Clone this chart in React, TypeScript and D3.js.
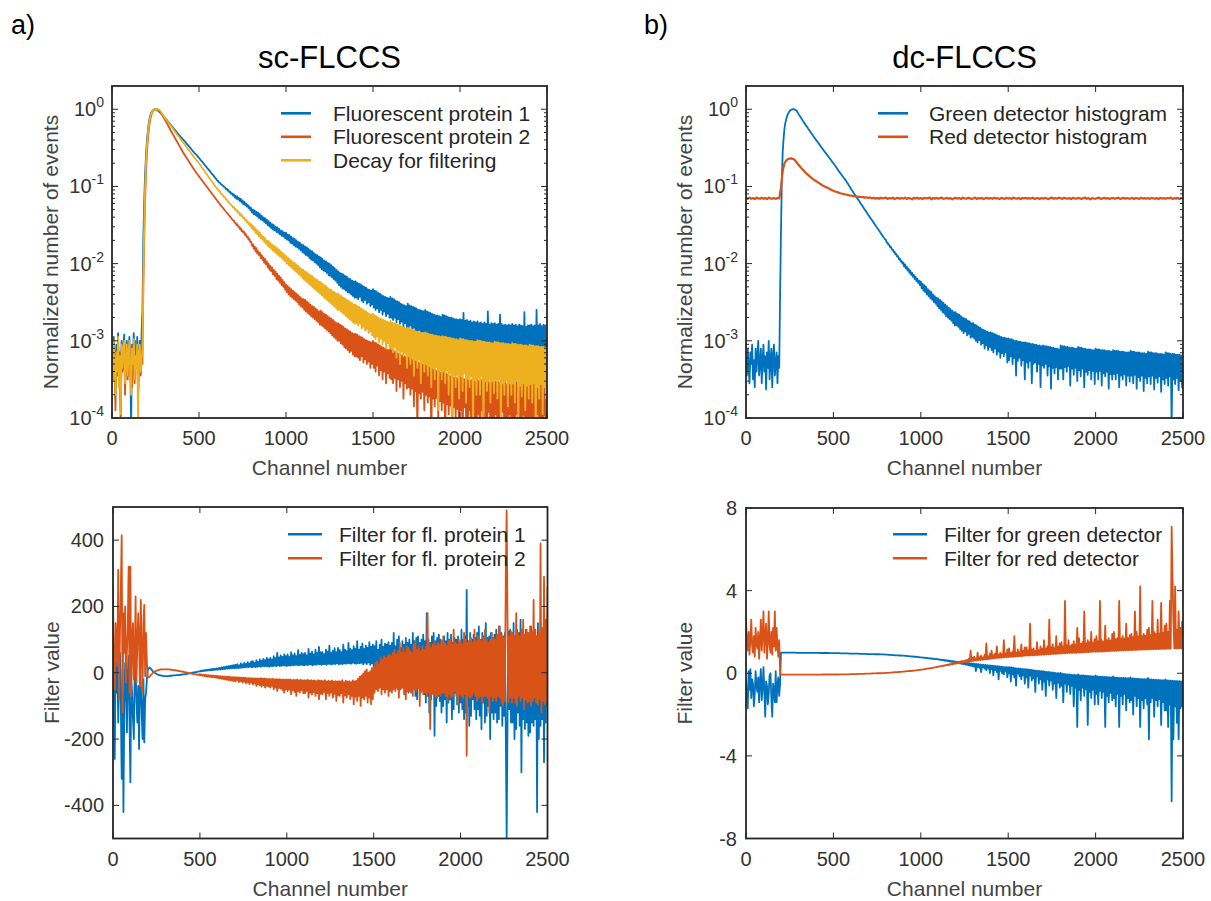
import React from "react";
import * as d3 from "d3";

// Every series is sampled on a regular channel grid from 0 to 2500.
// Series with 501 values are read every 5 channels, with 251 values every 10 channels.
const CHANNEL_MAX = 2500;

// ---------- sc-FLCCS histograms (log10 of normalized number of events), every 5 channels ----------
const scProtein1Log10 = [
  -3.0,-3.4,-2.95,-3.25,-3.6,-3.05,-3.3,-2.9,-3.5,-3.15,-3.9,-3.0,-3.35,-3.1,-2.92,-3.55,-3.2,-3.0,-3.45,-3.1,
  -2.95,-3.3,-4.1,-3.05,-3.25,-2.9,-3.5,-3.1,-3.35,-2.95,-3.7,-3.15,-3.0,-3.4,-2.9,-2.6,-1.7,-1.2,-0.85,-0.62,
  -0.43,-0.3,-0.2,-0.13,-0.08,-0.05,-0.03,-0.015,-0.005,0,0,-0.003,-0.01,-0.02,-0.03,-0.04,-0.05,-0.062,-0.075,-0.088,
  -0.1,-0.113,-0.125,-0.14,-0.155,-0.168,-0.18,-0.195,-0.21,-0.222,-0.235,-0.25,-0.265,-0.278,-0.29,-0.305,-0.32,-0.332,-0.345,-0.358,
  -0.37,-0.383,-0.395,-0.408,-0.42,-0.435,-0.45,-0.462,-0.475,-0.488,-0.5,-0.515,-0.53,-0.542,-0.555,-0.568,-0.58,-0.592,-0.605,-0.618,
  -0.63,-0.645,-0.66,-0.672,-0.685,-0.7,-0.715,-0.728,-0.74,-0.755,-0.77,-0.782,-0.795,-0.81,-0.825,-0.838,-0.85,-0.865,-0.88,-0.895,
  -0.905,-0.925,-0.93,-0.95,-0.95,-0.97,-0.972,-0.99,-0.992,-1.01,-1.012,-1.035,-1.03,-1.055,-1.05,-1.075,-1.07,-1.095,-1.09,-1.115,
  -1.1,-1.14,-1.12,-1.16,-1.13,-1.17,-1.15,-1.19,-1.16,-1.21,-1.18,-1.23,-1.2,-1.24,-1.22,-1.26,-1.24,-1.28,-1.26,-1.31,
  -1.28,-1.34,-1.3,-1.36,-1.31,-1.37,-1.33,-1.39,-1.34,-1.41,-1.36,-1.43,-1.38,-1.44,-1.4,-1.46,-1.41,-1.48,-1.43,-1.5,
  -1.45,-1.52,-1.47,-1.54,-1.49,-1.56,-1.5,-1.57,-1.52,-1.59,-1.53,-1.6,-1.55,-1.62,-1.57,-1.64,-1.58,-1.65,-1.6,-1.67,
  -1.6,-1.69,-1.62,-1.7,-1.63,-1.73,-1.65,-1.74,-1.67,-1.76,-1.68,-1.78,-1.7,-1.79,-1.72,-1.81,-1.73,-1.83,-1.75,-1.85,
  -1.76,-1.87,-1.78,-1.89,-1.79,-1.9,-1.81,-1.93,-1.83,-1.95,-1.84,-1.96,-1.86,-1.98,-1.88,-2.0,-1.89,-2.02,-1.91,-2.05,
  -1.92,-2.07,-1.94,-2.09,-1.96,-2.1,-1.97,-2.12,-1.99,-2.15,-2.0,-2.16,-2.02,-2.18,-2.04,-2.2,-2.06,-2.22,-2.08,-2.25,
  -2.1,-2.28,-2.12,-2.3,-2.13,-2.32,-2.14,-2.33,-2.16,-2.35,-2.17,-2.37,-2.19,-2.38,-2.2,-2.4,-2.22,-2.42,-2.23,-2.44,
  -2.23,-2.44,-2.25,-2.46,-2.26,-2.43,-2.27,-2.48,-2.29,-2.5,-2.3,-2.47,-2.31,-2.52,-2.33,-2.5,-2.34,-2.55,-2.35,-2.53,
  -2.33,-2.57,-2.35,-2.6,-2.36,-2.58,-2.38,-2.63,-2.39,-2.6,-2.41,-2.66,-2.42,-2.62,-2.43,-2.68,-2.44,-2.65,-2.45,-2.7,
  -2.43,-2.7,-2.45,-2.73,-2.46,-2.7,-2.48,-2.76,-2.49,-2.72,-2.5,-2.78,-2.52,-2.75,-2.53,-2.82,-2.54,-2.77,-2.55,-2.85,
  -2.52,-2.84,-2.54,-2.8,-2.55,-2.9,-2.56,-2.83,-2.57,-2.88,-2.58,-2.95,-2.6,-2.86,-2.6,-2.92,-2.61,-2.88,-2.62,-3.0,
  -2.6,-2.92,-2.62,-3.0,-2.63,-2.9,-2.64,-3.05,-2.65,-2.95,-2.66,-3.1,-2.67,-2.96,-2.67,-3.02,-2.68,-2.98,-2.69,-3.15,
  -2.66,-3.0,-2.67,-3.1,-2.68,-3.02,-2.69,-3.2,-2.7,-3.05,-2.7,-3.12,-2.71,-3.04,-2.72,-3.3,-2.72,-3.08,-2.73,-3.15,
  -2.72,-3.1,-2.73,-3.2,-2.64,-3.08,-2.74,-3.35,-2.73,-3.12,-2.75,-3.25,-2.74,-3.1,-2.76,-3.5,-2.75,-3.15,-2.76,-3.22,
  -2.75,-3.15,-2.77,-3.28,-2.76,-3.12,-2.78,-3.6,-2.76,-3.18,-2.78,-3.3,-2.62,-3.14,-2.79,-3.4,-2.77,-3.2,-2.78,-3.25,
  -2.77,-3.18,-2.79,-3.3,-2.78,-3.15,-2.66,-3.5,-2.78,-3.2,-2.8,-3.32,-2.79,-3.16,-2.8,-3.45,-2.79,-3.22,-2.8,-3.28,
  -2.78,-3.2,-2.8,-3.35,-2.79,-3.9,-2.81,-3.18,-2.79,-3.3,-2.8,-3.22,-2.81,-3.45,-2.63,-3.2,-2.82,-3.35,-2.8,-3.25,
  -2.8,-3.25,-2.79,-3.4,-2.81,-3.2,-2.8,-3.5,-2.6,-3.22,-2.8,-3.35,-2.78,-3.2,-2.81,-3.45,-2.79,-3.25,-2.8,-3.3,
  -2.95,
];

const scProtein2Log10 = [
  -3.2,-3.5,-3.05,-3.35,-3.9,-3.2,-3.45,-3.0,-3.6,-3.25,-4.1,-3.1,-3.4,-3.3,-3.05,-3.7,-3.2,-3.1,-3.5,-3.25,
  -3.05,-3.45,-3.2,-3.6,-3.1,-3.3,-3.55,-3.0,-3.35,-3.15,-3.7,-3.25,-3.1,-3.45,-3.2,-3.3,-2.3,-1.7,-1.2,-0.85,
  -0.6,-0.42,-0.3,-0.2,-0.13,-0.085,-0.05,-0.03,-0.015,-0.007,-0.002,0,0,-0.004,-0.01,-0.02,-0.04,-0.06,-0.08,-0.1,
  -0.12,-0.14,-0.16,-0.18,-0.2,-0.222,-0.245,-0.265,-0.285,-0.305,-0.325,-0.345,-0.365,-0.385,-0.405,-0.425,-0.445,-0.465,-0.485,-0.505,
  -0.525,-0.545,-0.565,-0.582,-0.6,-0.618,-0.635,-0.652,-0.67,-0.688,-0.705,-0.722,-0.74,-0.758,-0.775,-0.792,-0.81,-0.825,-0.84,-0.855,
  -0.87,-0.885,-0.9,-0.915,-0.93,-0.945,-0.96,-0.975,-0.99,-1.005,-1.02,-1.035,-1.05,-1.065,-1.08,-1.095,-1.11,-1.125,-1.14,-1.155,
  -1.17,-1.185,-1.2,-1.215,-1.23,-1.245,-1.26,-1.272,-1.285,-1.3,-1.315,-1.328,-1.34,-1.355,-1.37,-1.382,-1.395,-1.41,-1.425,-1.438,
  -1.44,-1.47,-1.47,-1.5,-1.49,-1.52,-1.52,-1.55,-1.54,-1.58,-1.57,-1.6,-1.59,-1.63,-1.62,-1.66,-1.65,-1.69,-1.68,-1.72,
  -1.72,-1.77,-1.75,-1.81,-1.78,-1.84,-1.8,-1.87,-1.84,-1.89,-1.86,-1.93,-1.89,-1.95,-1.92,-1.99,-1.94,-2.01,-1.97,-2.05,
  -2.0,-2.08,-2.03,-2.1,-2.05,-2.14,-2.08,-2.16,-2.1,-2.2,-2.13,-2.22,-2.16,-2.25,-2.18,-2.28,-2.21,-2.3,-2.24,-2.34,
  -2.27,-2.37,-2.29,-2.4,-2.31,-2.42,-2.33,-2.44,-2.35,-2.46,-2.37,-2.48,-2.39,-2.5,-2.41,-2.53,-2.43,-2.55,-2.45,-2.57,
  -2.46,-2.6,-2.47,-2.62,-2.49,-2.64,-2.51,-2.66,-2.53,-2.68,-2.55,-2.7,-2.56,-2.72,-2.58,-2.74,-2.6,-2.76,-2.62,-2.79,
  -2.61,-2.8,-2.63,-2.82,-2.65,-2.84,-2.66,-2.86,-2.68,-2.88,-2.7,-2.9,-2.71,-2.93,-2.73,-2.95,-2.75,-2.97,-2.77,-3.0,
  -2.77,-3.0,-2.79,-3.03,-2.8,-3.05,-2.82,-3.08,-2.84,-3.1,-2.85,-3.12,-2.87,-3.15,-2.88,-3.13,-2.9,-3.18,-2.91,-3.2,
  -2.91,-3.2,-2.92,-3.22,-2.94,-3.25,-2.95,-3.2,-2.96,-3.28,-2.98,-3.24,-2.99,-3.3,-3.0,-3.27,-3.01,-3.35,-3.02,-3.3,
  -3.0,-3.35,-3.02,-3.4,-3.03,-3.32,-3.05,-3.45,-3.06,-3.38,-3.08,-3.5,-3.09,-3.4,-3.1,-3.55,-3.11,-3.42,-3.12,-3.48,
  -3.1,-3.5,-3.12,-3.55,-3.13,-3.48,-3.15,-3.65,-3.16,-3.5,-3.17,-3.6,-3.18,-3.52,-3.19,-3.75,-3.2,-3.55,-3.21,-3.62,
  -3.2,-3.6,-3.22,-3.7,-3.23,-3.62,-3.25,-3.85,-3.26,-3.65,-3.27,-4.2,-3.28,-3.68,-3.29,-3.75,-3.3,-3.66,-3.31,-3.9,
  -3.3,-3.7,-3.32,-3.8,-3.33,-3.72,-3.35,-4.3,-3.36,-3.75,-3.37,-3.85,-3.38,-3.74,-3.39,-4.0,-3.4,-3.78,-3.41,-3.9,
  -3.4,-3.8,-3.41,-4.3,-3.42,-3.82,-3.44,-3.95,-3.45,-3.84,-3.46,-4.3,-3.47,-3.86,-3.48,-4.0,-3.48,-3.88,-3.49,-4.3,
  -3.46,-3.9,-3.48,-4.3,-3.49,-3.86,-3.5,-4.0,-3.5,-4.3,-3.51,-3.9,-3.52,-4.3,-3.5,-3.92,-3.52,-4.05,-3.53,-4.3,
  -3.5,-3.95,-3.52,-4.3,-3.5,-3.9,-3.53,-4.3,-3.52,-4.0,-3.54,-4.3,-3.52,-3.92,-3.55,-4.3,-3.53,-3.98,-3.54,-4.3,
  -3.52,-3.95,-3.54,-4.3,-3.53,-4.0,-3.55,-4.3,-3.52,-3.92,-3.55,-4.3,-3.54,-4.05,-3.56,-4.3,-3.53,-3.95,-3.55,-4.3,
  -3.54,-4.0,-3.55,-4.3,-3.53,-3.95,-3.56,-4.3,-3.54,-4.02,-3.55,-4.3,-3.53,-3.96,-3.56,-4.3,-3.54,-4.0,-3.55,-4.3,
  -3.53,-3.98,-3.56,-4.3,-3.54,-4.02,-3.55,-4.3,-3.53,-3.95,-3.56,-4.3,-3.54,-4.0,-3.55,-4.3,-3.53,-3.97,-3.56,-4.3,
  -3.6,
];

const scDecayLog10 = [
  -3.1,-3.5,-3.0,-3.3,-3.7,-3.15,-3.4,-2.95,-3.6,-3.2,-3.95,-3.05,-3.35,-3.1,-3.0,-3.55,-3.25,-3.05,-3.45,-3.15,
  -3.0,-3.4,-3.7,-3.1,-3.3,-2.98,-3.5,-3.2,-3.35,-3.05,-4.1,-3.15,-3.05,-3.4,-3.25,-3.1,-2.2,-1.55,-1.05,-0.72,
  -0.5,-0.35,-0.24,-0.16,-0.1,-0.065,-0.04,-0.022,-0.01,-0.003,0,0,0,-0.004,-0.01,-0.018,-0.03,-0.045,-0.06,-0.08,
  -0.1,-0.115,-0.13,-0.145,-0.16,-0.175,-0.19,-0.205,-0.22,-0.235,-0.25,-0.268,-0.285,-0.3,-0.315,-0.33,-0.345,-0.36,-0.375,-0.39,
  -0.405,-0.42,-0.435,-0.45,-0.465,-0.48,-0.495,-0.51,-0.525,-0.54,-0.555,-0.57,-0.585,-0.6,-0.615,-0.63,-0.645,-0.658,-0.67,-0.685,
  -0.7,-0.715,-0.73,-0.748,-0.765,-0.78,-0.795,-0.812,-0.83,-0.845,-0.86,-0.878,-0.895,-0.91,-0.925,-0.94,-0.955,-0.972,-0.99,-1.005,
  -1.015,-1.035,-1.04,-1.06,-1.065,-1.09,-1.095,-1.115,-1.12,-1.14,-1.145,-1.17,-1.172,-1.195,-1.195,-1.22,-1.225,-1.245,-1.25,-1.27,
  -1.265,-1.3,-1.29,-1.32,-1.31,-1.345,-1.335,-1.37,-1.355,-1.39,-1.38,-1.415,-1.405,-1.44,-1.43,-1.465,-1.45,-1.49,-1.475,-1.515,
  -1.49,-1.55,-1.51,-1.57,-1.53,-1.6,-1.56,-1.62,-1.58,-1.65,-1.6,-1.67,-1.63,-1.69,-1.65,-1.72,-1.67,-1.74,-1.7,-1.77,
  -1.71,-1.79,-1.73,-1.81,-1.75,-1.83,-1.77,-1.85,-1.78,-1.87,-1.8,-1.89,-1.82,-1.91,-1.84,-1.93,-1.86,-1.95,-1.88,-1.97,
  -1.9,-2.0,-1.92,-2.02,-1.94,-2.04,-1.96,-2.06,-1.98,-2.08,-1.99,-2.1,-2.01,-2.12,-2.03,-2.14,-2.05,-2.16,-2.07,-2.19,
  -2.08,-2.21,-2.1,-2.23,-2.11,-2.25,-2.13,-2.27,-2.15,-2.29,-2.16,-2.31,-2.18,-2.33,-2.2,-2.35,-2.21,-2.37,-2.23,-2.39,
  -2.24,-2.41,-2.26,-2.43,-2.28,-2.45,-2.29,-2.47,-2.31,-2.49,-2.33,-2.51,-2.34,-2.53,-2.36,-2.55,-2.37,-2.57,-2.39,-2.6,
  -2.39,-2.6,-2.41,-2.62,-2.42,-2.64,-2.44,-2.66,-2.45,-2.68,-2.47,-2.7,-2.48,-2.72,-2.5,-2.74,-2.51,-2.76,-2.53,-2.78,
  -2.53,-2.77,-2.55,-2.8,-2.56,-2.78,-2.58,-2.84,-2.59,-2.82,-2.61,-2.87,-2.62,-2.85,-2.64,-2.9,-2.65,-2.88,-2.66,-2.93,
  -2.65,-2.95,-2.67,-2.98,-2.68,-2.94,-2.7,-3.02,-2.71,-2.97,-2.72,-3.05,-2.73,-3.0,-2.74,-3.1,-2.75,-3.03,-2.76,-3.08,
  -2.74,-3.1,-2.76,-3.15,-2.77,-3.08,-2.78,-3.22,-2.79,-3.12,-2.8,-3.3,-2.81,-3.14,-2.82,-3.2,-2.83,-3.16,-2.84,-3.35,
  -2.83,-3.2,-2.84,-3.3,-2.85,-3.22,-2.86,-3.45,-2.87,-3.25,-2.88,-3.35,-2.88,-3.24,-2.89,-3.55,-2.9,-3.28,-2.9,-3.4,
  -2.89,-3.3,-2.9,-3.45,-2.91,-3.32,-2.92,-3.6,-2.92,-3.35,-2.93,-3.5,-2.93,-3.34,-2.94,-3.9,-2.94,-3.38,-2.95,-3.5,
  -2.94,-3.4,-2.95,-3.55,-2.95,-3.38,-2.96,-3.7,-2.96,-3.42,-2.97,-4.2,-2.97,-3.45,-2.98,-3.6,-2.98,-3.44,-2.99,-3.75,
  -2.97,-3.45,-2.98,-3.65,-2.98,-3.42,-2.99,-3.8,-2.99,-3.48,-3.0,-3.6,-3.0,-3.46,-3.0,-4.2,-3.01,-3.5,-3.01,-3.7,
  -2.99,-3.48,-3.0,-3.7,-3.0,-3.46,-3.01,-4.2,-3.01,-3.52,-3.02,-3.65,-3.02,-3.5,-3.02,-3.8,-3.03,-3.52,-3.03,-3.68,
  -3.01,-3.5,-3.02,-3.75,-3.02,-3.5,-3.03,-4.2,-3.03,-3.55,-3.03,-3.7,-3.04,-3.52,-3.04,-3.85,-3.04,-3.55,-3.05,-3.7,
  -3.03,-3.55,-3.04,-3.8,-3.04,-3.52,-3.05,-4.2,-3.05,-3.58,-3.05,-3.72,-3.06,-3.55,-3.06,-3.9,-3.06,-3.58,-3.07,-3.75,
  -3.05,-3.56,-3.06,-3.8,-3.06,-3.55,-3.07,-4.2,-3.07,-3.6,-3.07,-3.75,-3.08,-3.56,-3.08,-3.95,-3.08,-3.6,-3.09,-3.75,
  -3.1,
];

// ---------- dc-FLCCS histograms (log10 of normalized number of events) ----------
// green detector: every 5 channels
const dcGreenLog10 = [
  -3.2,-3.45,-3.1,-3.35,-3.55,-3.15,-3.3,-3.05,-3.5,-3.25,-3.6,-3.1,-3.4,-3.2,-3.0,-3.45,-3.3,-3.1,-3.55,-3.25,
  -3.05,-3.4,-3.2,-3.63,-3.15,-3.35,-3.0,-3.5,-3.25,-3.1,-3.6,-3.2,-3.05,-3.45,-3.3,-3.15,-3.55,-3.2,-3.35,-2.4,
  -1.6,-0.9,-0.55,-0.38,-0.25,-0.18,-0.13,-0.09,-0.06,-0.04,-0.02,-0.012,-0.005,-0.001,0,0,-0.005,-0.012,-0.02,-0.04,
  -0.06,-0.078,-0.095,-0.112,-0.13,-0.148,-0.165,-0.182,-0.2,-0.215,-0.23,-0.248,-0.265,-0.282,-0.3,-0.315,-0.33,-0.348,-0.365,-0.38,
  -0.395,-0.41,-0.425,-0.44,-0.455,-0.472,-0.49,-0.505,-0.52,-0.535,-0.55,-0.565,-0.58,-0.595,-0.61,-0.625,-0.64,-0.655,-0.67,-0.685,
  -0.7,-0.715,-0.73,-0.748,-0.765,-0.782,-0.8,-0.815,-0.83,-0.845,-0.86,-0.875,-0.89,-0.905,-0.92,-0.938,-0.955,-0.972,-0.99,-1.008,
  -1.03,-1.047,-1.064,-1.081,-1.098,-1.115,-1.132,-1.149,-1.166,-1.183,-1.2,-1.217,-1.234,-1.251,-1.268,-1.285,-1.302,-1.319,-1.336,-1.353,
  -1.37,-1.386,-1.403,-1.42,-1.436,-1.452,-1.469,-1.485,-1.502,-1.519,-1.535,-1.552,-1.568,-1.585,-1.602,-1.618,-1.635,-1.652,-1.668,-1.685,
  -1.69,-1.727,-1.728,-1.758,-1.758,-1.79,-1.786,-1.82,-1.818,-1.85,-1.845,-1.882,-1.876,-1.91,-1.905,-1.944,-1.935,-1.972,-1.965,-2.0,
  -1.985,-2.04,-2.01,-2.065,-2.04,-2.09,-2.065,-2.12,-2.09,-2.145,-2.12,-2.17,-2.145,-2.2,-2.17,-2.225,-2.195,-2.25,-2.22,-2.28,
  -2.23,-2.32,-2.26,-2.35,-2.28,-2.37,-2.3,-2.4,-2.33,-2.42,-2.35,-2.45,-2.37,-2.47,-2.4,-2.5,-2.42,-2.52,-2.44,-2.55,
  -2.45,-2.58,-2.47,-2.6,-2.49,-2.63,-2.51,-2.65,-2.53,-2.68,-2.55,-2.7,-2.57,-2.72,-2.59,-2.74,-2.61,-2.77,-2.63,-2.8,
  -2.63,-2.8,-2.65,-2.82,-2.66,-2.85,-2.68,-2.87,-2.7,-2.9,-2.71,-2.88,-2.72,-2.93,-2.74,-2.91,-2.75,-2.96,-2.77,-2.95,
  -2.77,-2.97,-2.79,-3.0,-2.8,-3.02,-2.82,-2.99,-2.83,-3.05,-2.85,-3.03,-2.86,-3.1,-2.87,-3.06,-2.88,-3.12,-2.89,-3.08,
  -2.89,-3.12,-2.9,-3.15,-2.91,-3.1,-2.92,-3.18,-2.93,-3.14,-2.94,-3.22,-2.95,-3.16,-2.96,-3.2,-2.96,-3.15,-2.97,-3.28,
  -2.97,-3.25,-2.98,-3.2,-2.98,-3.3,-2.99,-3.22,-3.0,-3.45,-3.0,-3.26,-3.01,-3.22,-3.01,-3.32,-3.02,-3.25,-3.02,-3.5,
  -3.02,-3.28,-3.03,-3.35,-3.03,-3.26,-3.04,-3.55,-3.04,-3.3,-3.05,-3.28,-3.05,-3.4,-3.06,-3.3,-3.06,-3.6,-3.07,-3.32,
  -3.06,-3.35,-3.07,-3.3,-3.07,-3.45,-3.08,-3.33,-3.08,-3.62,-3.09,-3.35,-3.09,-3.42,-3.1,-3.34,-3.1,-3.5,-3.11,-3.36,
  -3.06,-3.36,-3.07,-3.5,-3.07,-3.34,-3.08,-3.4,-3.08,-3.33,-3.09,-3.58,-3.09,-3.36,-3.09,-3.44,-3.1,-3.35,-3.1,-3.52,
  -3.08,-3.38,-3.09,-3.46,-3.09,-3.36,-3.1,-3.6,-3.1,-3.4,-3.11,-3.44,-3.11,-3.38,-3.11,-3.5,-3.12,-3.39,-3.12,-3.56,
  -3.1,-3.4,-3.11,-3.5,-3.11,-3.39,-3.12,-3.58,-3.12,-3.42,-3.12,-3.46,-3.13,-3.4,-3.13,-3.62,-3.13,-3.43,-3.14,-3.5,
  -3.12,-3.43,-3.13,-3.5,-3.13,-3.42,-3.13,-3.6,-3.14,-3.45,-3.14,-3.5,-3.14,-3.43,-3.15,-3.58,-3.15,-3.45,-3.15,-3.53,
  -3.13,-3.45,-3.14,-3.55,-3.14,-3.44,-3.15,-3.62,-3.15,-3.47,-3.15,-3.52,-3.16,-3.45,-3.16,-3.65,-3.16,-3.48,-3.17,-3.55,
  -3.14,-3.46,-3.15,-3.56,-3.15,-3.45,-3.16,-3.63,-3.16,-3.48,-3.16,-3.54,-3.17,-3.46,-3.17,-3.66,-3.17,-3.5,-3.18,-3.56,
  -3.15,-3.48,-3.16,-3.58,-3.16,-3.46,-3.17,-4.1,-3.17,-3.5,-3.17,-3.56,-3.18,-3.48,-3.18,-3.64,-3.18,-3.52,-3.19,-3.6,
  -3.3,
];

// red detector: every 10 channels
const dcRedLog10 = [
  -1.15,-1.16,-1.145,-1.16,-1.15,-1.165,-1.145,-1.155,-1.16,-1.145,
  -1.16,-1.15,-1.165,-1.145,-1.155,-1.16,-1.148,-1.162,-1.15,-1.155,
  -1.02,-0.8,-0.7,-0.665,-0.645,-0.64,-0.637,-0.645,-0.66,-0.69,
  -0.72,-0.745,-0.77,-0.795,-0.82,-0.84,-0.86,-0.88,-0.9,-0.915,
  -0.93,-0.945,-0.96,-0.975,-0.99,-1.0,-1.012,-1.022,-1.035,-1.045,
  -1.055,-1.065,-1.072,-1.08,-1.088,-1.095,-1.1,-1.105,-1.11,-1.115,
  -1.118,-1.122,-1.128,-1.13,-1.135,-1.133,-1.14,-1.138,-1.145,-1.14,
  -1.15,-1.143,-1.155,-1.148,-1.158,-1.15,-1.16,-1.146,-1.157,-1.15,
  -1.145,-1.162,-1.15,-1.158,-1.145,-1.165,-1.152,-1.148,-1.16,-1.15,
  -1.158,-1.145,-1.162,-1.15,-1.155,-1.168,-1.148,-1.158,-1.145,-1.16,
  -1.15,-1.163,-1.147,-1.157,-1.152,-1.145,-1.166,-1.15,-1.158,-1.148,
  -1.16,-1.15,-1.145,-1.162,-1.155,-1.148,-1.16,-1.15,-1.167,-1.152,
  -1.148,-1.158,-1.15,-1.165,-1.145,-1.155,-1.16,-1.148,-1.152,-1.162,
  -1.155,-1.145,-1.162,-1.15,-1.158,-1.147,-1.165,-1.152,-1.148,-1.16,
  -1.15,-1.16,-1.145,-1.158,-1.152,-1.165,-1.148,-1.155,-1.162,-1.147,
  -1.158,-1.15,-1.163,-1.145,-1.155,-1.16,-1.148,-1.166,-1.15,-1.155,
  -1.147,-1.16,-1.152,-1.158,-1.145,-1.162,-1.155,-1.15,-1.165,-1.148,
  -1.16,-1.148,-1.155,-1.165,-1.15,-1.145,-1.16,-1.152,-1.158,-1.146,
  -1.152,-1.162,-1.147,-1.155,-1.16,-1.15,-1.165,-1.148,-1.155,-1.16,
  -1.148,-1.155,-1.162,-1.15,-1.145,-1.16,-1.152,-1.167,-1.15,-1.157,
  -1.16,-1.15,-1.145,-1.163,-1.155,-1.148,-1.158,-1.15,-1.165,-1.152,
  -1.15,-1.16,-1.152,-1.146,-1.162,-1.155,-1.148,-1.16,-1.15,-1.158,
  -1.157,-1.148,-1.165,-1.15,-1.155,-1.162,-1.145,-1.158,-1.152,-1.16,
  -1.15,-1.162,-1.148,-1.155,-1.16,-1.15,-1.165,-1.147,-1.158,-1.152,
  -1.16,-1.15,-1.155,-1.145,-1.162,-1.152,-1.158,-1.148,-1.165,-1.15,
  -1.155,
];

// ---------- sc-FLCCS filters, every 5 channels ----------
const scFilter1 = [
  80,-120,-260,30,-60,40,-150,-20,60,-90,-320,10,-420,-100,30,-50,-180,0,50,-140,
  -330,-30,-60,-140,-200,10,20,-90,-150,-40,-230,0,-40,-120,-200,-20,-210,-80,-60,-20,
  8,12,16,14,10,7,4,2,0,-2,-3,-5,-6,-7,-8,-8,-9,-9,-10,-10,
  -10,-10,-10,-10,-10,-9,-9,-9,-9,-8,-8,-8,-8,-7,-7,-7,-7,-6,-6,-6,
  -5,-5,-5,-4,-4,-3,-3,-2,-2,-1,-1,0,0,1,1,2,2,3,3,4,
  4,6,5,7,5,8,6,9,6,9,7,10,7,11,8,12,8,12,9,13,
  9,14,10,15,10,16,11,17,11,18,12,19,12,20,13,21,13,22,14,23,
  13,24,14,26,14,22,15,28,15,25,16,30,16,27,17,32,17,28,18,34,
  16,35,18,30,17,38,18,33,19,40,18,36,20,42,19,38,20,45,19,40,
  18,45,20,40,19,50,21,44,20,60,22,46,20,52,21,48,22,55,21,50,
  20,55,22,48,21,62,23,52,22,58,24,50,23,68,22,54,24,60,23,56,
  22,60,24,52,23,72,25,58,24,64,22,55,25,70,24,60,26,78,25,62,
  24,62,26,56,25,70,24,64,27,82,26,60,25,66,27,74,26,62,28,75,
  25,68,27,62,26,85,28,70,27,65,29,90,28,72,27,68,30,80,28,72,
  27,95,29,70,28,78,30,88,25,72,30,82,26,75,31,92,24,78,28,85,
  20,80,10,95,-10,70,5,85,0,100,-20,78,-5,88,-15,85,-10,92,-5,82,
  -30,90,-20,120,-40,80,-35,100,-50,110,-25,75,-45,95,-30,85,-15,105,-40,90,
  -60,100,-40,85,-55,120,-30,95,-70,105,-80,110,-45,90,-60,100,-50,115,-65,95,
  -90,180,-70,100,-120,90,-80,110,-60,120,-190,95,-100,105,-70,115,-85,100,-120,95,
  -100,110,-80,95,-150,120,-90,100,-80,115,-140,90,-110,105,-60,100,-95,110,-120,90,
  -90,130,-110,100,-140,110,-120,250,-100,95,-160,120,-130,100,-80,115,-110,105,-140,120,
  -110,140,-130,100,-170,120,-90,110,-150,150,-130,105,-100,110,-200,120,-120,105,-140,115,
  -120,130,-150,100,-140,140,-100,120,-160,110,-130,120,-180,-500,-140,125,-110,130,-150,120,
  -150,150,-200,110,-170,130,-120,120,-160,160,-300,120,-140,110,-170,130,-150,120,-190,115,
  -180,140,-150,120,-160,130,-140,110,-420,150,-200,120,-160,130,-140,110,-270,120,-150,100,
  -100,
];

const scFilter2 = [
  260,-40,-50,150,80,20,310,-80,120,250,415,-120,180,60,200,-30,60,140,320,-60,
  320,-70,100,150,-20,40,230,-30,80,180,100,-40,220,60,-60,150,205,-10,120,30,
  -15,-14,-12,-9,-6,-3,0,2,4,5,6,7,8,9,9,10,10,10,10,10,
  10,10,10,10,10,10,9,9,9,8,8,8,7,7,6,6,5,5,4,4,
  3,3,2,2,1,0,0,-1,-1,-2,-2,-3,-3,-4,-4,-5,-5,-6,-6,-7,
  -4,-8,-5,-9,-6,-10,-6,-11,-7,-12,-7,-12,-8,-13,-8,-14,-9,-14,-9,-15,
  -9,-16,-10,-17,-10,-18,-11,-19,-11,-20,-12,-21,-12,-22,-12,-23,-13,-24,-13,-25,
  -13,-26,-14,-22,-14,-28,-14,-25,-15,-30,-15,-27,-15,-32,-16,-28,-16,-34,-16,-30,
  -16,-36,-17,-32,-17,-40,-17,-35,-18,-38,-16,-42,-18,-37,-17,-45,-18,-40,-19,-42,
  -18,-45,-19,-40,-18,-50,-20,-44,-19,-55,-20,-46,-19,-48,-21,-52,-20,-60,-21,-50,
  -20,-55,-21,-50,-20,-65,-22,-52,-21,-58,-22,-70,-20,-55,-23,-60,-21,-52,-23,-62,
  -22,-62,-23,-55,-21,-75,-24,-60,-22,-66,-24,-58,-23,-70,-25,-62,-22,-80,-24,-64,
  -24,-65,-25,-58,-22,-80,-26,-62,-24,-70,-26,-60,-23,-75,-27,-64,-25,-85,-26,-68,
  -25,-70,-26,-62,-22,-90,-28,-68,-24,-75,-27,-65,-25,-80,-28,-70,-23,-95,-26,-72,
  -24,-85,-18,-70,-12,-100,-8,-75,-2,-80,5,-70,10,-90,0,-75,5,-95,15,-80,
  15,-60,30,-50,35,-55,25,-45,45,-65,40,-50,50,-60,45,-50,50,-70,55,-55,
  50,-60,60,-50,70,-55,55,-45,65,-75,90,-50,60,-45,75,-65,60,-80,80,-55,
  75,-55,65,-60,60,-70,85,-50,95,-55,70,-45,80,-100,65,-55,80,-65,70,-60,
  80,-70,180,-60,90,-170,75,-65,85,-60,95,-70,80,-75,90,-65,85,-70,95,-60,
  110,-60,90,-70,80,-85,95,-65,100,-75,85,-70,130,-55,90,-70,85,-95,100,-65,
  95,-70,85,-75,120,-65,100,-250,90,-70,95,-75,105,-70,90,-60,130,-70,95,-85,
  110,-75,100,-70,95,-90,105,-70,130,-70,100,-75,90,-120,100,-70,120,-85,105,-75,
  100,-85,115,-70,140,-75,120,-90,110,-100,105,-85,300,490,160,-90,110,-75,125,-90,
  120,-75,110,-90,180,-100,120,-70,110,-85,130,-75,160,-110,115,-80,130,-90,120,-85,
  140,-100,125,-85,220,-75,130,-90,110,-95,120,-80,390,-120,135,-85,290,-95,160,-85,
  260,
];

// ---------- dc-FLCCS filters, every 5 channels ----------
const dcFilterGreen = [
  -0.3,-1.2,-1.7,0.1,-0.8,0.2,-1.2,-0.3,-0.5,-1.6,-1.0,0.1,-0.6,-0.9,-0.2,-1.4,-0.4,0.2,-1.3,-0.7,
  0.3,-0.9,-2.1,-0.4,-0.6,-1.5,-1.0,-0.1,0.0,-1.2,-2.1,-0.5,-0.8,-1.4,0.1,-1.4,-0.6,-0.2,-1.1,-0.5,
  1.0,1.0,1.0,1.0,1.0,1.0,1.0,1.0,1.0,1.0,1.0,1.0,1.0,1.0,1.0,1.0,1.0,1.0,0.99,0.99,
  0.99,0.99,0.99,0.99,0.99,0.99,0.99,0.99,0.99,0.99,0.99,0.99,0.99,0.99,0.99,0.99,0.99,0.99,0.99,0.99,
  0.99,0.99,0.99,0.99,0.98,0.98,0.98,0.98,0.98,0.98,0.98,0.98,0.98,0.98,0.98,0.98,0.97,0.97,0.97,0.97,
  0.97,0.97,0.97,0.97,0.97,0.97,0.97,0.97,0.96,0.96,0.96,0.96,0.96,0.96,0.96,0.96,0.96,0.96,0.95,0.95,
  0.95,0.95,0.95,0.95,0.95,0.95,0.95,0.95,0.95,0.95,0.94,0.94,0.94,0.94,0.94,0.94,0.94,0.94,0.93,0.93,
  0.93,0.93,0.93,0.93,0.93,0.93,0.93,0.92,0.92,0.92,0.92,0.92,0.92,0.91,0.91,0.91,0.91,0.91,0.91,0.9,
  0.9,0.9,0.9,0.89,0.89,0.89,0.89,0.88,0.88,0.88,0.88,0.87,0.87,0.87,0.87,0.86,0.86,0.86,0.85,0.85,
  0.85,0.85,0.84,0.84,0.84,0.83,0.83,0.83,0.82,0.82,0.81,0.81,0.8,0.8,0.8,0.79,0.79,0.78,0.78,0.77,
  0.77,0.77,0.76,0.76,0.75,0.75,0.74,0.73,0.74,0.72,0.73,0.71,0.72,0.7,0.71,0.69,0.7,0.68,0.69,0.67,
  0.68,0.66,0.67,0.64,0.66,0.63,0.65,0.61,0.64,0.6,0.63,0.58,0.62,0.57,0.6,0.55,0.59,0.54,0.58,0.52,
  0.57,0.51,0.56,0.49,0.55,0.47,0.54,0.45,0.53,0.44,0.52,0.42,0.51,0.4,0.5,0.38,0.49,0.36,0.48,0.34,
  0.47,0.32,0.46,0.1,0.45,0.3,0.44,0.26,0.43,0.05,0.42,0.28,0.41,0.22,0.4,0.15,0.39,0.24,0.38,0.0,
  0.38,0.2,0.37,-0.1,0.36,0.15,0.35,0.05,0.34,-0.3,0.33,0.12,0.32,0.0,0.31,-0.05,0.3,0.1,0.3,-0.2,
  0.3,0.0,0.29,-0.4,0.28,-0.05,0.27,-0.2,0.25,-0.6,0.24,0.0,0.23,-0.15,0.22,-0.3,0.21,-0.1,0.2,-0.5,
  0.2,-0.2,0.19,-0.7,0.18,-0.1,0.17,-0.35,0.15,-0.25,0.14,-0.9,0.13,-0.15,0.12,-0.5,0.11,-0.3,0.1,-0.8,
  0.1,-0.4,0.08,-1.1,0.07,-0.3,0.06,-0.6,0.05,-0.35,0.04,-0.8,0.03,-0.5,0.02,-1.2,0.01,-0.45,0.0,-0.7,
  0.02,-0.6,-0.02,-1.4,-0.03,-0.5,-0.04,-0.9,-0.05,-0.55,-0.06,-1.0,-0.07,-0.6,-0.08,-1.6,-0.08,-0.7,-0.09,-2.6,
  -0.05,-0.8,-0.1,-1.3,-0.1,-0.7,-0.11,-1.1,-0.12,-0.75,-0.12,-2.5,-0.13,-0.9,-0.14,-1.2,-0.14,-0.8,-0.15,-1.5,
  -0.1,-1.0,-0.15,-1.5,-0.16,-0.85,-0.16,-1.2,-0.17,-0.9,-0.18,-2.6,-0.18,-1.1,-0.19,-1.4,-0.19,-0.95,-0.2,-1.3,
  -0.15,-1.2,-0.2,-1.6,-0.21,-1.0,-0.21,-2.6,-0.22,-1.1,-0.22,-1.5,-0.23,-1.0,-0.23,-1.8,-0.24,-1.2,-0.24,-1.4,
  -0.2,-1.3,-0.25,-2.0,-0.25,-1.1,-0.26,-1.6,-0.26,-1.2,-0.27,-2.6,-0.27,-1.3,-0.28,-1.7,-0.28,-1.2,-0.29,-1.5,
  -0.22,-3.2,-0.3,-1.4,-0.3,-1.2,-0.31,-2.1,-0.31,-1.3,-0.32,-1.6,-0.32,-1.25,-0.33,-2.5,-0.33,-1.4,-0.34,-1.8,
  -0.3,-1.8,-0.35,-2.6,-0.35,-1.5,-0.36,-6.2,-0.36,-3.2,-0.37,-1.6,-0.37,-2.4,-0.38,-3.2,-0.38,-1.7,-0.39,-1.6,
  -0.4,
];

const dcFilterRed = [
  2.7,1.5,1.1,2.0,0.9,1.7,2.6,1.3,1.0,1.8,0.8,2.2,1.4,1.2,2.0,0.7,1.6,2.6,1.1,1.9,
  3.0,1.0,1.8,2.4,0.7,1.5,3.0,1.4,1.0,2.0,0.9,2.2,1.3,3.0,1.1,2.2,1.3,0.8,1.6,-0.05,
  -0.06,-0.06,-0.07,-0.07,-0.07,-0.07,-0.07,-0.07,-0.07,-0.07,-0.07,-0.07,-0.07,-0.07,-0.07,-0.07,-0.07,-0.07,-0.07,-0.07,
  -0.07,-0.07,-0.07,-0.07,-0.07,-0.07,-0.07,-0.07,-0.07,-0.07,-0.07,-0.07,-0.07,-0.07,-0.07,-0.07,-0.07,-0.07,-0.07,-0.07,
  -0.07,-0.07,-0.07,-0.07,-0.07,-0.07,-0.07,-0.07,-0.06,-0.06,-0.06,-0.06,-0.06,-0.06,-0.06,-0.06,-0.06,-0.06,-0.06,-0.06,
  -0.06,-0.06,-0.06,-0.06,-0.06,-0.06,-0.06,-0.06,-0.05,-0.05,-0.05,-0.05,-0.05,-0.05,-0.05,-0.05,-0.05,-0.05,-0.05,-0.04,
  -0.04,-0.04,-0.04,-0.04,-0.04,-0.04,-0.04,-0.04,-0.03,-0.03,-0.03,-0.03,-0.03,-0.03,-0.03,-0.03,-0.02,-0.02,-0.02,-0.02,
  -0.02,-0.02,-0.02,-0.02,-0.01,-0.01,-0.01,-0.01,-0.01,-0.01,0.0,0.0,0.0,0.0,0.0,0.0,0.01,0.01,0.01,0.01,
  0.02,0.02,0.02,0.02,0.03,0.03,0.03,0.03,0.04,0.04,0.05,0.05,0.05,0.05,0.06,0.06,0.07,0.07,0.07,0.08,
  0.08,0.08,0.09,0.09,0.1,0.1,0.1,0.1,0.11,0.11,0.12,0.12,0.13,0.13,0.14,0.14,0.15,0.15,0.16,0.16,
  0.17,0.18,0.18,0.19,0.19,0.2,0.21,0.22,0.22,0.23,0.23,0.25,0.25,0.26,0.26,0.28,0.28,0.29,0.29,0.31,
  0.31,0.33,0.33,0.35,0.34,0.37,0.36,0.38,0.37,0.4,0.39,0.42,0.4,0.44,0.42,0.46,0.43,0.48,0.45,0.5,
  0.46,0.52,0.48,0.54,0.49,0.57,0.51,0.6,0.52,0.58,0.54,0.63,0.55,0.65,0.56,0.7,0.57,1.1,0.58,0.75,
  0.6,0.8,0.61,0.72,0.62,1.0,0.63,0.78,0.64,0.85,0.65,0.76,0.66,0.9,0.67,1.45,0.68,0.82,0.69,0.95,
  0.7,1.1,0.71,0.88,0.72,0.95,0.73,1.3,0.74,0.9,0.75,1.0,0.75,0.92,0.76,1.6,0.77,0.95,0.78,1.15,
  0.78,1.2,0.79,0.98,0.8,1.05,0.8,1.8,0.81,1.0,0.82,1.15,0.82,1.02,0.83,1.4,0.83,1.08,0.84,1.25,
  0.85,1.25,0.85,1.1,0.86,2.4,0.86,1.15,0.87,1.2,0.87,1.08,0.88,1.5,0.88,1.12,0.89,1.3,0.89,1.18,
  0.9,1.6,0.9,1.2,0.91,1.3,0.91,2.6,0.92,1.25,0.93,1.4,0.93,1.22,0.94,1.8,0.94,1.3,0.95,1.45,
  0.95,1.5,0.96,1.3,0.96,3.5,0.97,1.35,0.97,1.6,0.98,1.32,0.98,1.4,0.98,1.55,0.99,1.38,0.99,2.2,
  1.0,1.7,1.0,1.42,1.0,1.5,1.01,3.0,1.01,1.45,1.02,1.6,1.02,1.5,1.03,2.0,1.03,1.48,1.04,1.65,
  1.04,1.8,1.04,1.55,1.05,3.5,1.05,1.6,1.05,1.52,1.06,2.3,1.06,1.6,1.07,1.7,1.07,1.58,1.08,1.9,
  1.08,2.0,1.08,1.65,1.09,1.7,1.09,3.5,1.1,1.68,1.1,1.8,1.1,1.66,1.11,2.4,1.11,1.7,1.12,1.85,
  1.12,1.9,1.12,1.75,1.13,3.0,1.13,2.0,1.13,1.78,1.14,4.2,1.14,1.8,1.14,1.9,1.15,1.82,1.15,2.1,
  1.15,2.2,1.16,1.85,1.16,3.5,1.16,2.0,1.17,1.9,1.17,2.6,1.17,1.92,1.18,3.4,1.18,1.95,1.18,2.3,
  1.18,2.4,1.19,2.0,1.19,3.5,1.19,7.1,4.8,2.6,1.2,4.2,1.2,2.1,1.2,3.0,1.21,2.2,1.21,2.5,
  1.8,
];

// tick values
const xTicks = [0, 500, 1000, 1500, 2000, 2500];
const logExponents = [-4, -3, -2, -1, 0];
const scFilterTicks = [-400, -200, 0, 200, 400];
const dcFilterTicks = [-8, -4, 0, 4, 8];

const BLUE = "#0072BD";
const RED = "#D95319";
const YELLOW = "#EDB120";
const FONT = "'Liberation Sans', Arial, Helvetica, sans-serif";
const AX = "#262626";

type Series = { values: number[]; color: string; label: string };

interface PanelProps {
  id: string;
  left: number;
  right: number;
  top: number;
  bottom: number;
  logY: boolean;
  yDomain: [number, number];
  yTicks: number[];
  series: Series[];
  legendLineX: number;
  legendLineLen: number;
  legendTextX: number;
  legendY: number;
  legendStep: number;
  yLabel: string;
}

function Panel(p: PanelProps) {
  const x = d3.scaleLinear().domain([0, CHANNEL_MAX]).range([p.left, p.right]);
  const y: any = p.logY
    ? d3.scaleLog().domain(p.yDomain).range([p.bottom, p.top])
    : d3.scaleLinear().domain(p.yDomain).range([p.bottom, p.top]);
  const toVal = (v: number) => (p.logY ? Math.pow(10, v) : v);

  const pathFor = (values: number[]) => {
    const step = CHANNEL_MAX / (values.length - 1);
    const gen = d3
      .line<number>()
      .x((_, i) => x(i * step))
      .y((v) => y(toVal(v)));
    return gen(values) || "";
  };

  const minor: number[] = [];
  if (p.logY) {
    for (const e of logExponents) {
      for (let m = 2; m <= 9; m++) {
        const v = m * Math.pow(10, e);
        if (v < p.yDomain[1]) minor.push(v);
      }
    }
  }
  const majorY = p.logY ? logExponents.map((e) => Math.pow(10, e)) : p.yTicks;
  const tl = 6;

  return (
    <g>
      <defs>
        <clipPath id={`clip-${p.id}`}>
          <rect x={p.left} y={p.top} width={p.right - p.left} height={p.bottom - p.top} />
        </clipPath>
      </defs>
      <g clipPath={`url(#clip-${p.id})`}>
        {p.series.map((s, k) => (
          <path
            key={k}
            d={pathFor(s.values)}
            fill="none"
            stroke={s.color}
            strokeWidth={s.values.length > 300 ? 1.8 : 2.2}
            strokeLinejoin="round"
          />
        ))}
      </g>
      <g stroke={AX} strokeWidth={1}>
        {xTicks.map((t) => (
          <g key={`xt${t}`}>
            <line x1={x(t)} x2={x(t)} y1={p.bottom} y2={p.bottom - tl} />
            <line x1={x(t)} x2={x(t)} y1={p.top} y2={p.top + tl} />
          </g>
        ))}
        {majorY.map((t) => (
          <g key={`yt${t}`}>
            <line x1={p.left} x2={p.left + tl} y1={y(t)} y2={y(t)} />
            <line x1={p.right} x2={p.right - tl} y1={y(t)} y2={y(t)} />
          </g>
        ))}
        {minor.map((t) => (
          <g key={`ym${t}`}>
            <line x1={p.left} x2={p.left + 3} y1={y(t)} y2={y(t)} />
            <line x1={p.right} x2={p.right - 3} y1={y(t)} y2={y(t)} />
          </g>
        ))}
      </g>
      <rect
        x={p.left}
        y={p.top}
        width={p.right - p.left}
        height={p.bottom - p.top}
        fill="none"
        stroke={AX}
        strokeWidth={1.8}
      />
      <g fontFamily={FONT} fontSize={20} fill="#333333">
        {xTicks.map((t) => (
          <text key={`xl${t}`} x={x(t)} y={p.bottom + 27} textAnchor="middle">
            {t}
          </text>
        ))}
        {p.logY
          ? logExponents.map((e) => (
              <text key={`yl${e}`} x={p.left - 8} y={y(Math.pow(10, e)) + 7} textAnchor="end">
                10
                <tspan fontSize={14} dy={-9}>
                  {e}
                </tspan>
              </text>
            ))
          : p.yTicks.map((t) => (
              <text key={`yl${t}`} x={p.left - 9} y={y(t) + 7} textAnchor="end">
                {t}
              </text>
            ))}
      </g>
      <text
        x={(p.left + p.right) / 2}
        y={p.bottom + 57}
        textAnchor="middle"
        fontFamily={FONT}
        fontSize={21}
        fill="#444444"
      >
        Channel number
      </text>
      <text
        transform={`translate(${p.left - 62},${(p.top + p.bottom) / 2}) rotate(-90)`}
        textAnchor="middle"
        dominantBaseline="central"
        fontFamily={FONT}
        fontSize={21}
        fill="#444444"
      >
        {p.yLabel}
      </text>
      <g fontFamily={FONT} fontSize={21} fill="#262626">
        {p.series.map((s, k) => {
          const ly = p.legendY + k * p.legendStep;
          return (
            <g key={`lg${k}`}>
              <line
                x1={p.legendLineX}
                x2={p.legendLineX + p.legendLineLen}
                y1={ly}
                y2={ly}
                stroke={s.color}
                strokeWidth={2.6}
              />
              <text x={p.legendTextX} y={ly + 7.5}>
                {s.label}
              </text>
            </g>
          );
        })}
      </g>
    </g>
  );
}

export default function App() {
  return (
    <svg
      width={1211}
      height={901}
      style={{ position: "absolute", left: 0, top: 0, background: "#ffffff" }}
    >
      <rect x={0} y={0} width={1211} height={901} fill="#ffffff" />
      <text x={11} y={34} fontFamily={FONT} fontSize={27} fill="#000">
        a)
      </text>
      <text x={644} y={34} fontFamily={FONT} fontSize={27} fill="#000">
        b)
      </text>
      <text x={329.5} y={68} textAnchor="middle" fontFamily={FONT} fontSize={31} fill="#000">
        sc-FLCCS
      </text>
      <text x={964.5} y={68} textAnchor="middle" fontFamily={FONT} fontSize={31} fill="#000">
        dc-FLCCS
      </text>

      <Panel
        id="tl"
        left={112}
        right={547}
        top={86}
        bottom={418}
        logY={true}
        yDomain={[1e-4, 2]}
        yTicks={[]}
        series={[
          { values: scProtein1Log10, color: BLUE, label: "Fluorescent protein 1" },
          { values: scProtein2Log10, color: RED, label: "Fluorescent protein 2" },
          { values: scDecayLog10, color: YELLOW, label: "Decay for filtering" },
        ]}
        legendLineX={281}
        legendLineLen={30}
        legendTextX={333}
        legendY={113.3}
        legendStep={23.5}
        yLabel="Normalized number of events"
      />
      <Panel
        id="tr"
        left={746}
        right={1183}
        top={86}
        bottom={418}
        logY={true}
        yDomain={[1e-4, 2]}
        yTicks={[]}
        series={[
          { values: dcGreenLog10, color: BLUE, label: "Green detector histogram" },
          { values: dcRedLog10, color: RED, label: "Red detector histogram" },
        ]}
        legendLineX={878}
        legendLineLen={30}
        legendTextX={929}
        legendY={113.3}
        legendStep={23.5}
        yLabel="Normalized number of events"
      />
      <Panel
        id="bl"
        left={113}
        right={547.5}
        top={507}
        bottom={838.5}
        logY={false}
        yDomain={[-500, 500]}
        yTicks={scFilterTicks}
        series={[
          { values: scFilter1, color: BLUE, label: "Filter for fl. protein 1" },
          { values: scFilter2, color: RED, label: "Filter for fl. protein 2" },
        ]}
        legendLineX={288}
        legendLineLen={34}
        legendTextX={339}
        legendY={534.3}
        legendStep={24}
        yLabel="Filter value"
      />
      <Panel
        id="br"
        left={746}
        right={1183}
        top={508}
        bottom={838.5}
        logY={false}
        yDomain={[-8, 8]}
        yTicks={dcFilterTicks}
        series={[
          { values: dcFilterGreen, color: BLUE, label: "Filter for green detector" },
          { values: dcFilterRed, color: RED, label: "Filter for red detector" },
        ]}
        legendLineX={893}
        legendLineLen={34}
        legendTextX={944}
        legendY={534.3}
        legendStep={24}
        yLabel="Filter value"
      />
    </svg>
  );
}
